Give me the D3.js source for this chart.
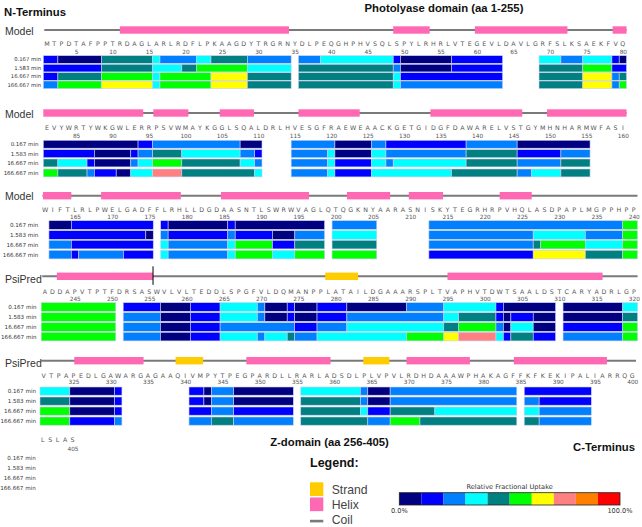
<!DOCTYPE html>
<html><head><meta charset="utf-8">
<script src="https://cdn.jsdelivr.net/npm/d3@7"></script>
<style>body{margin:0;background:#fff}svg{display:block}</style>
</head><body><svg id="c" width="642" height="527"></svg>
<script>
// ---------------- DATA ----------------
const sequence = "MTPDTAFPPTRDAGLARLRDFLPKAAGDYTRGRNYDLPEQGHPHVSQLSPYLRHRLVTEGEVLDAVLGRFSLKSAEKFVQ" +
  "EVYWRTYWKGWLERRPSVWMAYKGGLSQALDRLHVESGFRAEWEAACKGETGIDGFDAWARELVSTGYMHNHARMWFASI" +
  "WIFTLRLPWELGADFFLRHLLDGDAASNTLSWRWVAGLQTQGKNYAARASNISKYTEGRHRPVHQLASDPAPLMGPPHPP" +
  "ADDAPVTPTFDRSASWVLVLTEDDLSPGFVLDQMANPPLATAILDGAAARSPLTVAPHVTDWTSAALDSTCARYADRLGP" +
  "VTPAPEDLGAWARGAGAAQIVMPYTPEGPARDLLRARLADSDLPLVPVLRDHDAAAWPHAKAGFFKFKEKIPALIARRQG" +
  "LSLAS";
const timePoints = ["0.167 min", "1.583 min", "16.667 min", "166.667 min"];
const uptakeColors = ["#000080","#0000ff","#0080ff","#00ffff","#008080","#00ff00","#ffff00","#ff8080","#ff8000","#ff0000"];
const blockStarts = [1, 81, 161, 241, 321, 401];
const ssSource = ["Model", "Model", "Model", "PsiPred", "PsiPred", null];

// peptide segments: [first residue, last residue, relative fractional uptake %]
const uptake_0167 = [
  [1,2,15],[3,8,5],[9,15,45],[16,16,35],[17,21,25],[22,23,35],[24,28,45],[29,34,25],[36,38,25],[39,48,35],
  [49,49,15],[50,56,5],[57,63,15],[69,71,35],[72,74,25],[75,78,35],[79,79,15],[80,80,5],
  [81,93,5],[94,95,15],[96,107,25],[108,110,5],[115,120,25],[121,125,5],[126,127,25],[128,138,15],[139,145,25],[146,155,5],
  [162,164,5],[165,175,15],[177,177,15],[178,185,5],[186,186,15],[187,198,5],[200,205,25],[213,238,25],[239,240,55],
  [241,250,55],[252,256,15],[257,260,5],[261,264,15],[265,269,35],[270,270,25],[271,273,5],[274,274,15],[275,277,5],
  [278,281,15],[282,289,5],[290,294,25],[295,301,35],[302,302,15],[303,309,5],[311,318,5],[319,320,35],
  [321,324,35],[325,330,5],[331,331,15],[341,342,15],[343,343,5],[344,346,25],[347,354,5],[356,363,35],[364,364,25],
  [365,367,5],[368,384,25],[386,394,15]
];
const uptake_1583 = [
  [1,8,15],[9,15,45],[16,19,35],[20,21,45],[22,28,55],[29,34,35],[36,48,45],[49,49,25],[50,56,5],[57,63,15],
  [69,74,45],[75,78,55],[79,80,15],
  [81,87,15],[88,92,5],[93,93,15],[94,95,25],[96,99,45],[100,107,35],[108,109,25],[110,110,15],[115,119,25],[120,120,35],
  [121,125,5],[126,127,35],[128,138,25],[139,145,45],[146,151,15],[152,155,25],
  [162,174,15],[175,175,5],[177,177,25],[178,185,15],[186,186,25],[187,191,15],[192,194,5],[195,198,25],[200,205,35],
  [213,226,25],[227,233,35],[234,238,25],[239,240,55],
  [241,250,55],[252,256,25],[257,260,5],[261,264,15],[265,269,35],[270,270,25],[271,273,5],[274,274,15],[275,277,5],
  [278,281,15],[282,294,25],[295,296,35],[297,301,45],[302,302,15],[303,303,5],[304,306,15],[307,309,5],[311,318,5],[319,320,45],
  [321,324,45],[325,330,5],[331,331,15],[341,342,15],[343,343,5],[344,346,25],[347,354,5],[356,363,45],[364,364,25],
  [365,367,5],[368,384,25],[386,387,25],[388,394,15]
];
const uptake_16667 = [
  [1,2,15],[3,8,45],[9,15,55],[16,16,35],[17,23,55],[24,28,65],[29,34,45],[36,48,45],[49,49,35],[50,63,15],
  [69,74,45],[75,78,65],[79,79,25],[80,80,45],
  [81,82,45],[83,86,35],[87,87,15],[88,92,5],[93,93,25],[94,95,35],[96,99,55],[100,107,45],[108,109,35],[110,110,25],
  [115,119,25],[120,120,35],[121,125,15],[126,127,35],[128,128,25],[129,138,35],[139,145,45],[146,151,25],[152,155,45],
  [162,164,25],[165,175,15],[177,177,35],[178,185,25],[186,186,35],[187,191,55],[192,194,15],[195,198,45],[200,205,45],
  [213,226,25],[227,227,45],[228,233,55],[234,238,35],[239,240,55],
  [241,250,55],[252,256,25],[257,260,5],[261,264,15],[265,274,25],[275,277,15],[278,281,25],[282,294,35],[295,296,45],
  [297,301,55],[302,302,25],[303,303,5],[304,306,35],[307,309,5],[311,318,15],[319,320,55],
  [321,324,55],[325,330,5],[331,331,15],[341,343,15],[344,346,25],[347,354,15],[356,363,45],[364,364,35],[365,367,15],
  [368,373,45],[374,384,35],[386,387,35],[388,394,25]
];
const uptake_166667 = [
  [1,2,25],[3,8,55],[9,15,65],[16,16,35],[17,23,55],[24,28,65],[29,34,45],[36,48,45],[49,49,35],[50,63,25],
  [69,74,45],[75,78,65],[79,79,25],[80,80,55],
  [81,82,55],[83,86,45],[87,87,25],[88,90,15],[91,92,5],[93,95,35],[96,99,75],[100,109,45],[110,110,35],
  [115,119,25],[120,120,35],[121,125,15],[126,136,35],[137,145,45],[146,147,25],[148,151,35],[152,155,45],
  [162,164,25],[165,165,15],[166,171,25],[172,175,15],[177,177,35],[178,185,25],[186,186,35],[187,191,55],[192,194,35],
  [195,198,55],[200,205,55],[213,226,15],[227,233,65],[234,238,45],[239,240,55],
  [241,250,55],[252,256,25],[257,260,5],[261,264,15],[265,269,35],[270,270,25],[271,273,35],[274,274,45],[275,277,25],
  [278,289,35],[290,294,55],[295,296,65],[297,301,75],[302,302,35],[303,303,15],[304,306,45],[307,309,15],[311,318,25],[319,320,55],
  [321,324,55],[325,330,15],[331,331,25],[341,343,25],[344,346,45],[347,354,25],[356,364,45],[365,367,25],
  [368,371,55],[372,384,45],[386,387,45],[388,394,25]
];
const uptakeByTime = [uptake_0167, uptake_1583, uptake_16667, uptake_166667];

// secondary structure: [from residue, to residue]
const helices = [
  [11.5,33.7],[49,53],[60.2,71.9],[79.1,93.7],[96.1,99.9],[105.2,108.9],[116,123.4],[134.1,145.7],[150.1,160],
  [161.2,164],[169,178.7],[185.1,195.9],[202,206.8],[210.3,213.9],[222.5,225.8],
  [243.1,255],[295.5,315.3],
  [325.6,333.9],[348.7,359],[370.2,377.7],[384.6,396.1]
];
const strands = [[279.1,282.5],[339.2,341.9],[364.4,366.9]];
const domainBoundary = 255.5;

// ---------------- LAYOUT ----------------
const layout = [
  {left:43.3, w:7.29,  model:30,    seq:43.3,  tick:51.7,  rows:[55.7,64.3,72.7,81],      rowH:7.6, lab:41,   labFs:5.3, labelY:31},
  {left:43.3, w:7.29,  model:113,   seq:128,   tick:135.7, rows:[140.3,149.7,159,169],    rowH:7.9, lab:38.5, labFs:5.5, labelY:114},
  {left:41.5, w:7.45,  model:195.7, seq:209.3, tick:216.7, rows:[220.7,230.7,240.3,250.3],rowH:8.6, lab:38.3, labFs:5.6, labelY:196.7},
  {left:41.2, w:7.455, model:276.3, seq:291.3, tick:298.7, rows:[302.7,312.7,322.7,332.3],rowH:8.6, lab:36.5, labFs:5.6, labelY:279.7},
  {left:40,   w:7.45,  model:360.7, seq:375.7, tick:382.3, rows:[387,397,407,417],        rowH:8.2, lab:36,   labFs:5.6, labelY:363},
  {left:39,   w:7.45,  model:null,  seq:440,   tick:449,   rows:[453.7,463.7,473.7,483.7],rowH:8,   lab:35.7, labFs:5.6}
];

const svg = d3.select("#c");
const color = d3.scaleQuantize().domain([0, 100]).range(uptakeColors);
const seqFont = "DejaVu Sans, Verdana, sans-serif";
const titleFont = "Liberation Sans, Arial, sans-serif";

blockStarts.forEach((first, bi) => {
  const L = layout[bi];
  const n = Math.min(80, sequence.length - first + 1);
  const last = first + n - 1;
  const x = d3.scaleLinear().domain([first - 0.5, first + 79.5]).range([L.left, L.left + 80 * L.w]);
  const g = svg.append("g");

  if (L.model !== null) {
    g.append("text").attr("x", 5).attr("y", L.labelY).attr("dy", "0.35em")
      .attr("font-family", titleFont).attr("font-size", 10.5).attr("fill", "#333")
      .text(ssSource[bi]);
    g.append("line").attr("x1", x(first - 0.5) + 1).attr("x2", x(last + 0.5))
      .attr("y1", L.model).attr("y2", L.model).attr("stroke", "#7a7a7a").attr("stroke-width", 2);
    const clip = arr => arr.map(d => [Math.max(d[0], first), Math.min(d[1], last)]).filter(d => d[0] <= d[1]);
    g.selectAll("rect.helix").data(clip(helices)).join("rect").attr("class", "helix")
      .attr("x", d => x(d[0] - 0.5)).attr("width", d => x(d[1] + 0.5) - x(d[0] - 0.5))
      .attr("y", L.model - 3.7).attr("height", 7.4).attr("fill", "#ff69b4");
    g.selectAll("rect.strand").data(clip(strands)).join("rect").attr("class", "strand")
      .attr("x", d => x(d[0] - 0.5)).attr("width", d => x(d[1] + 0.5) - x(d[0] - 0.5))
      .attr("y", L.model - 3.7).attr("height", 7.4).attr("fill", "#ffcc00");
    if (domainBoundary > first && domainBoundary < last) {
      g.append("line").attr("x1", x(domainBoundary)).attr("x2", x(domainBoundary))
        .attr("y1", L.model - 10).attr("y2", L.model + 8.5).attr("stroke", "#000").attr("stroke-width", 1);
    }
  }

  const residues = d3.range(first, last + 1);
  g.selectAll("text.aa").data(residues).join("text").attr("class", "aa")
    .attr("x", r => x(r)).attr("y", L.seq).attr("dy", "0.35em").attr("text-anchor", "middle")
    .attr("font-family", seqFont).attr("font-size", 6.3).attr("fill", "#555")
    .text(r => sequence[r - 1]);

  const tickVals = residues.filter(r => r % 5 === 0);
  const axis = d3.axisBottom(x).tickValues(tickVals).tickSize(0).tickPadding(0).tickFormat(d3.format("d"));
  const ag = g.append("g").attr("transform", `translate(0,${L.tick - 2.2})`).call(axis);
  ag.select(".domain").remove();
  ag.selectAll("text").attr("font-family", seqFont).attr("font-size", 5.8).attr("fill", "#555");

  timePoints.forEach((tp, ti) => {
    const y0 = L.rows[ti];
    g.append("text").attr("x", L.lab).attr("y", y0 + L.rowH / 2).attr("dy", "0.35em")
      .attr("text-anchor", "end").attr("font-family", seqFont).attr("font-size", L.labFs).attr("fill", "#333")
      .text(tp);
    const segs = uptakeByTime[ti]
      .map(s => [Math.max(s[0], first), Math.min(s[1], last), s[2]])
      .filter(s => s[0] <= s[1]);
    g.selectAll("rect.seg" + ti).data(segs).join("rect").attr("class", "seg" + ti)
      .attr("x", s => x(s[0] - 0.5)).attr("width", s => x(s[1] + 0.5) - x(s[0] - 0.5))
      .attr("y", y0).attr("height", L.rowH)
      .attr("fill", s => color(s[2])).attr("stroke", "#c9cdee").attr("stroke-width", 0.6);
  });
});

// ---------------- TITLES ----------------
const title = (txt, xx, yy, fs, anchor) => svg.append("text").attr("x", xx).attr("y", yy)
  .attr("font-family", titleFont).attr("font-weight", "bold").attr("font-size", fs)
  .attr("fill", "#111").attr("text-anchor", anchor || "start").text(txt);
title("N-Terminus", 4, 15.5, 11.3);
title("Photolyase domain (aa 1-255)", 444, 12, 11.3, "middle");
title("Z-domain (aa 256-405)", 329.5, 445.5, 11.3, "middle");
title("C-Terminus", 635, 451, 11.3, "end");
title("Legend:", 310, 466.7, 12.5);

// ---------------- LEGEND ----------------
const ssLegend = [["Strand", "#ffcc00"], ["Helix", "#ff69b4"], ["Coil", "#7a7a7a"]];
const lg = svg.append("g");
const ly = d3.scaleBand().domain(ssLegend.map(d => d[0])).range([482.3, 527]).paddingInner(0.05);
ssLegend.forEach((d, i) => {
  if (d[0] === "Coil") {
    lg.append("rect").attr("x", 310).attr("y", 519.8).attr("width", 13.3).attr("height", 2.6).attr("fill", d[1]);
  } else {
    lg.append("rect").attr("x", 310).attr("y", ly(d[0])).attr("width", 13.3).attr("height", 13.7).attr("fill", d[1]);
  }
  lg.append("text").attr("x", 331.7).attr("y", [493.5, 509, 523.5][i])
    .attr("font-family", titleFont).attr("font-size", 12.2).attr("fill", "#444").text(d[0]);
});

const cx = d3.scaleLinear().domain([0, 100]).range([399.3, 620]);
const cb = svg.append("g");
cb.selectAll("rect.cell").data(uptakeColors).join("rect").attr("class", "cell")
  .attr("x", (c, i) => cx(i * 10)).attr("width", (c, i) => cx((i + 1) * 10) - cx(i * 10))
  .attr("y", 492.7).attr("height", 12.3).attr("fill", c => c);
cb.append("rect").attr("x", cx(0)).attr("y", 492.7).attr("width", cx(100) - cx(0)).attr("height", 12.3)
  .attr("fill", "none").attr("stroke", "#222").attr("stroke-width", 0.8);
cb.append("text").attr("x", (cx(0) + cx(100)) / 2).attr("y", 489.3).attr("text-anchor", "middle")
  .attr("font-family", "DejaVu Sans, sans-serif").attr("font-size", 6.6).attr("fill", "#333")
  .text("Relative Fractional Uptake");
[[0, "0.0%"], [100, "100.0%"]].forEach(d => {
  cb.append("text").attr("x", cx(d[0])).attr("y", 512.5).attr("text-anchor", "middle")
    .attr("font-family", "DejaVu Sans, sans-serif").attr("font-size", 6.6).attr("fill", "#333").text(d[1]);
});
</script></body></html>
